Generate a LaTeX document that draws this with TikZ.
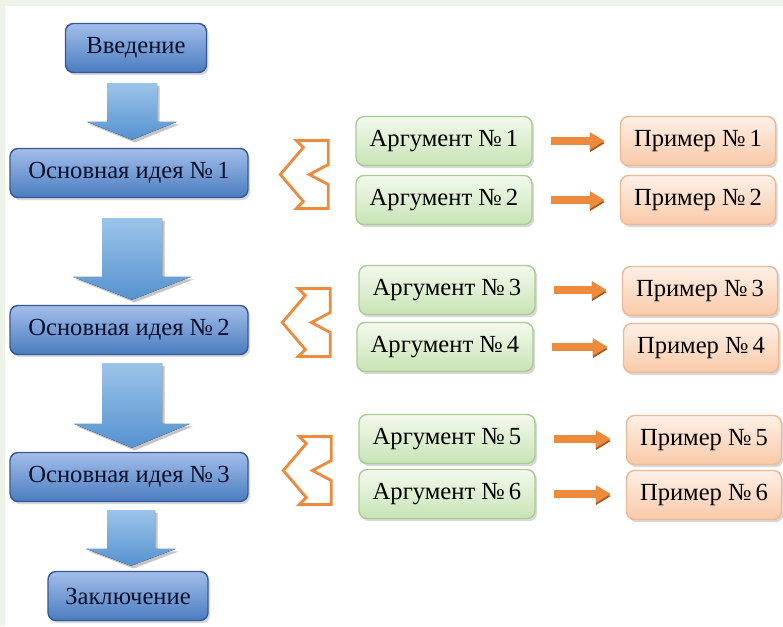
\documentclass[tikz,border=0pt]{standalone}
\usepackage{fontspec}
\setmainfont{Liberation Serif}
\usetikzlibrary{arrows.meta,calc,shadows}

\definecolor{BgGreen}{HTML}{EEF3EA}
\definecolor{BlueTop}{HTML}{A3BEEA}
\definecolor{BlueBot}{HTML}{4A7CC0}
\definecolor{BlueEdge}{HTML}{34589A}
\definecolor{Navy}{HTML}{08102A}
\definecolor{ArrTop}{HTML}{9CC4EA}
\definecolor{ArrBot}{HTML}{5592D0}
\definecolor{GreenTop}{HTML}{F3F9EE}
\definecolor{GreenBot}{HTML}{C7E4B4}
\definecolor{GreenEdge}{HTML}{A9CC94}
\definecolor{PeachTop}{HTML}{FEF0E6}
\definecolor{PeachBot}{HTML}{F9C9A8}
\definecolor{PeachEdge}{HTML}{EDB894}
\definecolor{Orange}{HTML}{EE8A3C}
\definecolor{OrangeDark}{HTML}{A8561A}

\begin{document}
\begin{tikzpicture}[x=0.02cm,y=-0.02cm]
	\tikzset{box/.style={rounded corners=0.16cm, minimum height=0.98cm, inner sep=0pt, line width=0.8pt,
			font=\fontsize{14}{16}\selectfont, drop shadow={opacity=0.3, shadow xshift=1.2pt, shadow yshift=-1.5pt}},
		idea/.style={box, minimum width=4.76cm, draw=BlueEdge, top color=BlueTop, bottom color=BlueBot, text=Navy},
		arg/.style={box, minimum width=3.52cm, draw=GreenEdge, top color=GreenTop, bottom color=GreenBot},
		ex/.style={box, minimum width=3.1cm, draw=PeachEdge, top color=PeachTop, bottom color=PeachBot},
		barrow/.style={top color=ArrTop, bottom color=ArrBot, drop shadow={opacity=0.45, shadow xshift=1.5pt, shadow yshift=-1.5pt}},
		oarrow/.style={line width=4.5pt, draw=Orange, -{Triangle[length=8.5pt, width=9.5pt]}, shorten <=0.36cm, shorten >=0.3cm,
			preaction={draw=OrangeDark, transform canvas={yshift=-1.2pt}}},
		bracket/.pic={
			\draw[Orange, line width=1.6pt, fill=white] (-32,-34) -- (0,-34) -- (0,-10) -- (-19,0) -- (0,10) -- (0,34)
			-- (-32,34) -- (-25,27) -- (-48,0) -- (-25,-27) -- cycle;
		}
	}
	\useasboundingbox (0,0) rectangle (783,626);
	\fill[BgGreen] (0,0) rectangle (783,626);
	\fill[white] (5,6) rectangle (783,626);
	
	% main line
	\node[idea, minimum width=2.82cm] (intro) at (136,48) {Введение};
	\node[idea] (idea1) at (129,173) {Основная идея №\,1};
	\node[idea] (idea2) at (129,330) {Основная идея №\,2};
	\node[idea] (idea3) at (129,477) {Основная идея №\,3};
	\node[idea, minimum width=3.2cm] (outro) at (128,596) {Заключение};
	
	\foreach \a/\b/\s/\h/\l/\g/\t in {intro/idea1/25/45/18/10/8, idea1/idea2/30/59/23/20/5,
		idea2/idea3/30/58/24/8/4, idea3/outro/24/45/17/8/5}{
		\fill[barrow] ($(\a.south -| \b.north)+(3-\s,\g)$) -- ($(\a.south -| \b.north)+(3+\s,\g)$)
		-- ($(\b.north)+(3+\s,-\t-\l)$) -- ($(\b.north)+(3+\h,-\t-\l)$) -- ($(\b.north)+(3,-\t)$)
		-- ($(\b.north)+(3-\h,-\t-\l)$) -- ($(\b.north)+(3-\s,-\t-\l)$) -- cycle;
	}
	
	% arguments and examples
	\foreach \i/\ax/\ay/\px/\py in {1/444/141/698/141, 2/444/200/698/200, 3/447/290/700/291,
		4/445/347/701/348, 5/447/439/704/440, 6/447/494/704/495}{
		\node[arg] (a\i) at (\ax,\ay) {Аргумент №\,\i};
		\node[ex] (p\i) at (\px,\py) {Пример №\,\i};
		\draw[oarrow] (a\i.east) -- (a\i.east -| p\i.west);
	}
	
	\foreach \i/\j in {1/2,3/4,5/6}
	\pic at ($(a\i.west)!0.5!(a\j.west)+(-27,4)$) {bracket};
\end{tikzpicture}
\end{document}
